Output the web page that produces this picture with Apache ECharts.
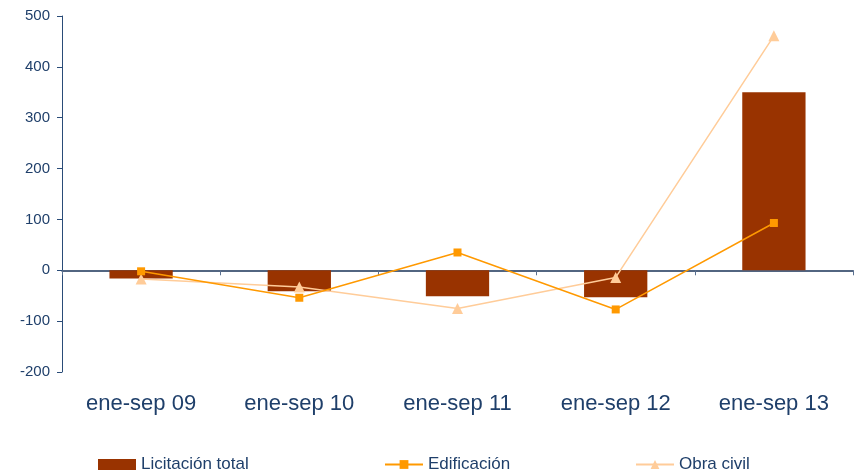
<!DOCTYPE html>
<html>
<head>
<meta charset="utf-8">
<script src="https://cdn.jsdelivr.net/npm/echarts@6/dist/echarts.min.js"></script>
<style>
html,body{margin:0;padding:0;background:#fff;}
#c{width:856px;height:474px;}
</style>
</head>
<body>
<div id="c"></div>
<script>
const categories = ['ene-sep 09', 'ene-sep 10', 'ene-sep 11', 'ene-sep 12', 'ene-sep 13'];
const licitacionTotal = [-16, -41, -51, -53, 350];
const edificacion = [-2, -54, 35, -77, 93];
const obraCivil = [-17, -33, -75, -14, 461];
const yTicks = [-200, -100, 0, 100, 200, 300, 400, 500];

const navy = '#1F3F6A';
const font = '"Liberation Sans", Arial, sans-serif';

const chart = echarts.init(document.getElementById('c'));
chart.setOption({
  animation: false,
  backgroundColor: '#ffffff',
  grid: { left: 62, right: 3, top: 16, bottom: 102, containLabel: false, outerBoundsMode: 'none' },
  legend: [
    { left: 98, top: 456, padding: 0, itemWidth: 38, itemHeight: 11, itemGap: 5,
      textStyle: { color: navy, fontSize: 17, fontFamily: font },
      data: [{ name: 'Licitación total', icon: 'rect' }] },
    { left: 384, top: 456, padding: 0, itemWidth: 38, itemHeight: 11,
      textStyle: { color: navy, fontSize: 17, fontFamily: font },
      data: ['Edificación'] },
    { left: 635, top: 456, padding: 0, itemWidth: 38, itemHeight: 11,
      textStyle: { color: navy, fontSize: 17, fontFamily: font },
      data: ['Obra civil'] }
  ],
  xAxis: {
    type: 'category',
    data: categories,
    axisLine: { onZero: true, lineStyle: { color: '#1A3358', width: 1.5 } },
    axisTick: { show: true, length: 5, lineStyle: { color: '#5A7090' } },
    axisLabel: { color: navy, fontSize: 22, fontFamily: font, margin: 21 },
    splitLine: { show: false }
  },
  yAxis: {
    type: 'value',
    min: yTicks[0],
    max: yTicks[yTicks.length - 1],
    interval: 100,
    axisLine: { show: true, lineStyle: { color: '#2A4C78', width: 1 } },
    axisTick: { show: true, length: 5, lineStyle: { color: '#2A4C78' } },
    axisLabel: { color: navy, fontSize: 15, fontFamily: font, margin: 12 },
    splitLine: { show: false }
  },
  series: [
    {
      name: 'Licitación total',
      type: 'bar',
      data: licitacionTotal,
      barWidth: '40%',
      itemStyle: { color: '#993300' },
      z: 1
    },
    {
      name: 'Edificación',
      type: 'line',
      data: edificacion,
      symbol: 'rect',
      symbolSize: 8,
      lineStyle: { color: '#FF9900', width: 1.5 },
      itemStyle: { color: '#FF9900' },
      z: 3
    },
    {
      name: 'Obra civil',
      type: 'line',
      data: obraCivil,
      symbol: 'triangle',
      symbolSize: 11,
      lineStyle: { color: '#FFCC99', width: 1.5 },
      itemStyle: { color: '#FFCC99' },
      z: 2
    }
  ]
});
</script>
</body>
</html>
